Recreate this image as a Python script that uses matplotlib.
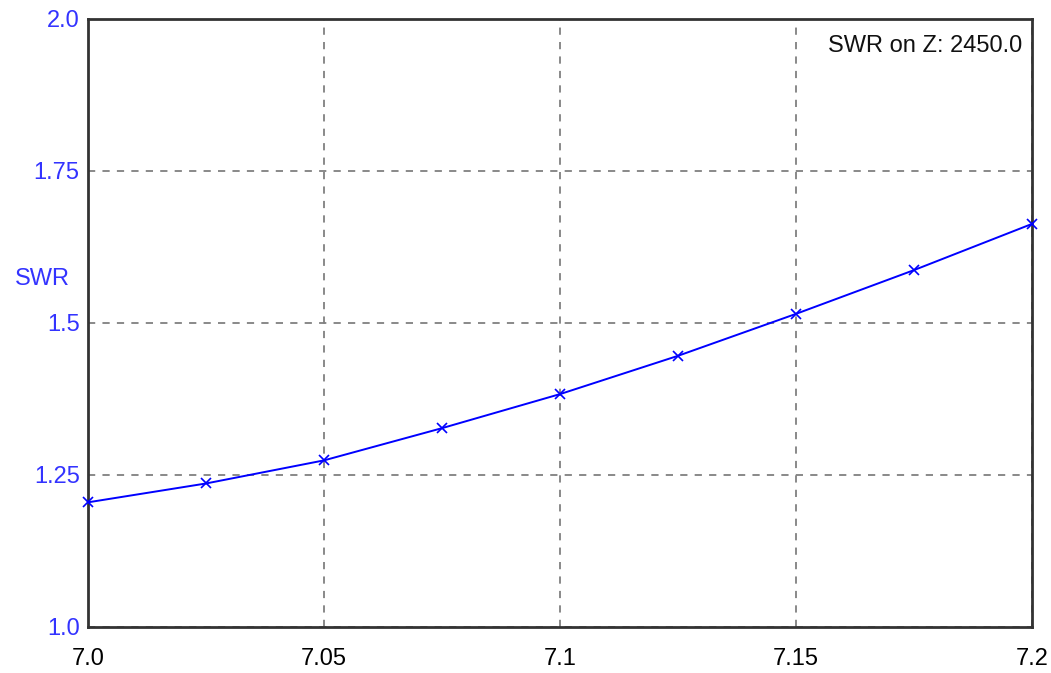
import matplotlib
matplotlib.use("Agg")
import matplotlib.pyplot as plt

plt.rcParams['font.family'] = ['Liberation Sans', 'DejaVu Sans']

# frequency (MHz) and SWR sweep
freq = [7.0, 7.025, 7.05, 7.075, 7.1, 7.125, 7.15, 7.175, 7.2]
swr = [1.205, 1.236, 1.274, 1.327, 1.383, 1.446, 1.515, 1.587, 1.663]

xticks = [7.0, 7.05, 7.1, 7.15, 7.2]
xlabels = ["7.0", "7.05", "7.1", "7.15", "7.2"]
yticks = [1.0, 1.25, 1.5, 1.75, 2.0]
ylabels = ["1.0", "1.25", "1.5", "1.75", "2.0"]

fig = plt.figure(figsize=(10.51, 6.73), dpi=100)
ax = fig.add_axes([0.0837, 0.0684, 0.8983, 0.9034])

ax.plot(freq, swr, color="#0000ff", lw=1.4, marker="x", ms=7, mew=1.2, clip_on=False, zorder=3)

ax.set_xlim(7.0, 7.2)
ax.set_ylim(1.0, 2.0)
ax.set_xticks(xticks)
ax.set_xticklabels(xlabels, fontsize=17, color="black")
ax.set_yticks(yticks)
ax.set_yticklabels(ylabels, fontsize=17, color="#3333ff")
ax.tick_params(axis="x", length=0, pad=15)
ax.tick_params(axis="y", length=0, pad=6)

ax.grid(True, color="#808080", ls=(0, (4, 4)), lw=1.3)
for s in ax.spines.values():
    s.set_color("#333333")
    s.set_linewidth(2)

fig.text(0.014, 0.585, "SWR", fontsize=17, color="#3333ff", va="center", ha="left")
ax.text(0.99, 0.955, "SWR on Z: 2450.0", transform=ax.transAxes, fontsize=17,
        ha="right", va="center", color="#111111")

fig.savefig("out.png", dpi=100)
